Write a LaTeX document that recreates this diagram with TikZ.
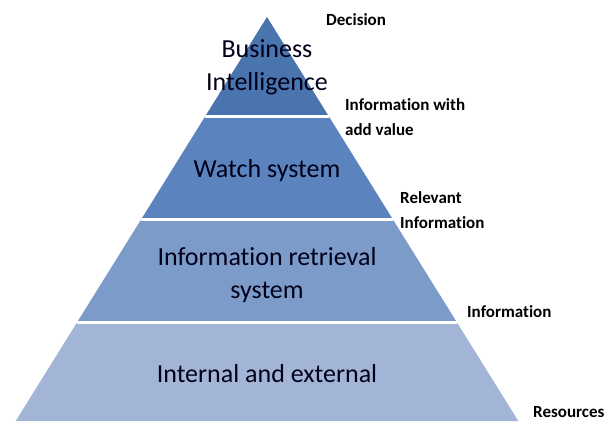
\documentclass[tikz,border=0pt]{standalone}
\usepackage{fontspec}
\setmainfont{Carlito}[Ligatures=NoCommon]
\begin{document}
\begin{tikzpicture}[x=1pt,y=-1pt,
  band/.style={draw=none},
  sep/.style={draw=white,line width=3pt},
  main/.style={text=black!90!blue,align=center,inner sep=0pt,font=\fontsize{26}{33}\selectfont},
  lbl/.style={anchor=base west,align=left,inner sep=0pt,font=\fontsize{17}{24.5}\selectfont\bfseries}]
\useasboundingbox[fill=white] (0,0) rectangle (616,421);
\definecolor{b1}{HTML}{4A74AE}
\definecolor{b2}{HTML}{5B83BD}
\definecolor{b3}{HTML}{7D9BC9}
\definecolor{b4}{HTML}{A2B5D6}
\coordinate (apex) at (267,17);
\coordinate (l1) at (205.4,116); \coordinate (r1) at (328.6,116);
\coordinate (l2) at (141.4,219); \coordinate (r2) at (392.6,219);
\coordinate (l3) at (77.3,322);  \coordinate (r3) at (456.7,322);
\coordinate (l4) at (15.7,421);  \coordinate (r4) at (518.3,421);
\fill[b1] (apex) -- (r1) -- (l1) -- cycle;
\fill[b2] (l1) -- (r1) -- (r2) -- (l2) -- cycle;
\fill[b3] (l2) -- (r2) -- (r3) -- (l3) -- cycle;
\fill[b4] (l3) -- (r3) -- (r4) -- (l4) -- cycle;
\draw[sep] (l1) -- (r1);
\draw[sep] (l2) -- (r2);
\draw[sep] (l3) -- (r3);
\node[main,anchor=base] (bi) at (267,90) {Business\\Intelligence};
\node[main,anchor=base] (ws) at (267,177) {Watch system};
\node[main,anchor=base] (irs) at (267,298) {Information retrieval\\system};
\node[main,anchor=base] (ie) at (267,382) {Internal and external};
\node[lbl] (dec) at (326,25) {Decision};
\node[lbl] (iwav) at (345,135) {Information with\\add value};
\node[lbl] (ri) at (400,228) {Relevant\\Information};
\node[lbl] (inf) at (467,317) {Information};
\node[lbl] (res) at (533,417) {Resources};
\end{tikzpicture}
\end{document}
